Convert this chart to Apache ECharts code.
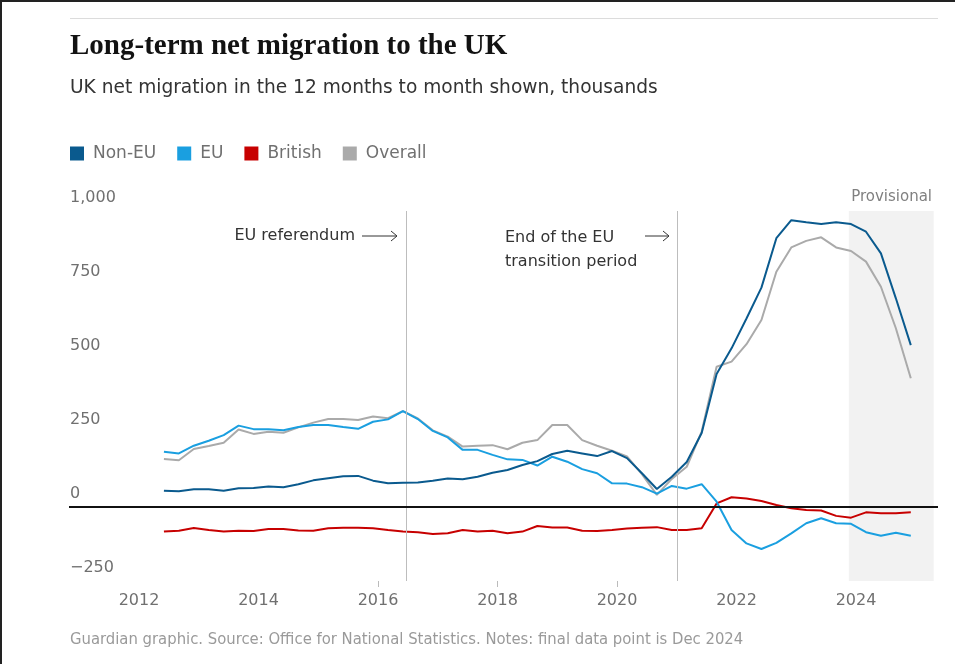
<!DOCTYPE html>
<html>
<head>
<meta charset="utf-8">
<script src="https://cdn.jsdelivr.net/npm/echarts@6/dist/echarts.min.js"></script>
<style>
html,body{margin:0;padding:0;background:#fff;}
#chart{width:955px;height:664px;}
</style>
</head>
<body>
<div id="chart"></div>
<script>
// Period ends (12 months to month shown), quarterly
const periods = [
  '2012-06','2012-09','2012-12',
  '2013-03','2013-06','2013-09','2013-12',
  '2014-03','2014-06','2014-09','2014-12',
  '2015-03','2015-06','2015-09','2015-12',
  '2016-03','2016-06','2016-09','2016-12',
  '2017-03','2017-06','2017-09','2017-12',
  '2018-03','2018-06','2018-09','2018-12',
  '2019-03','2019-06','2019-09','2019-12',
  '2020-03','2020-06','2020-09','2020-12',
  '2021-03','2021-06','2021-09','2021-12',
  '2022-03','2022-06','2022-09','2022-12',
  '2023-03','2023-06','2023-09','2023-12',
  '2024-03','2024-06','2024-09','2024-12'
];
const nonEU = [55,53,60,60,55,63,64,69,67,77,90,97,104,105,89,80,82,83,89,96,94,102,116,125,142,155,179,190,181,172,189,165,114,61,102,152,250,449,536,637,741,908,969,962,956,962,956,930,857,705,547];
const eu = [187,181,207,224,243,275,263,263,259,270,277,277,270,264,288,296,324,297,257,235,193,193,176,161,159,140,170,153,128,114,80,79,67,45,71,62,77,18,-78,-123,-142,-121,-89,-55,-38,-55,-57,-85,-97,-87,-97];
const british = [-83,-80,-71,-78,-83,-80,-81,-74,-74,-79,-80,-72,-70,-70,-72,-78,-83,-85,-91,-89,-78,-83,-80,-89,-83,-64,-69,-69,-80,-81,-78,-73,-70,-68,-78,-78,-72,12,33,29,20,7,-4,-10,-12,-30,-36,-18,-21,-21,-18];
const overall = [162,158,196,206,217,262,247,254,251,269,285,297,297,294,306,300,324,299,259,238,204,207,209,195,217,226,277,277,226,207,190,171,111,41,95,136,255,474,491,550,632,795,877,899,911,877,865,829,744,604,435];

const xLabelYears = [2012,2014,2016,2018,2020,2022,2024];
const xTickYears = [2016,2018,2020];
const yTicks = [-250,0,250,500,750,1000];
const seriesNames = ['Non-EU','EU','British','Overall'];
const colors = {'Non-EU':'#0a5a8e','EU':'#1a9fe0','British':'#c70000','Overall':'#aaaaaa'};

const euReferendum = 2016.47;
const transitionEnd = 2021.0;
const provisionalStart = 2023.88;
const provisionalEnd = 2025.3;

function toYear(p){ const [y,m] = p.split('-').map(Number); return y + (m-1)/12; }
function pairs(vals){ return periods.map((p,i)=>[toYear(p), vals[i]]); }

const chart = echarts.init(document.getElementById('chart'), null, {renderer:'canvas'});
const sans = 'DejaVu Sans';
const lineSeries = (name, vals, z) => ({
  name, type:'line', data: pairs(vals), showSymbol:false, symbol:'none', z,
  color: colors[name], lineStyle:{width:2, color: colors[name]}, silent:true
});

const option = {
  animation:false,
  grid:{left:69, right:17, top:211, bottom:83, containLabel:false},
  xAxis:{
    type:'value', min:2010.828, max:2025.372,
    axisLine:{show:false, onZero:false},
    axisTick:{show:true, customValues:xTickYears, length:6, lineStyle:{color:'#bbbbbb'}},
    axisLabel:{customValues:xLabelYears, color:'#707070', fontSize:16, fontFamily:sans, margin:12, formatter: v=>String(v)},
    splitLine:{show:false}
  },
  yAxis:{
    type:'value', min:yTicks[0], max:yTicks[yTicks.length-1], interval:250,
    axisLine:{show:false}, axisTick:{show:false}, splitLine:{show:false},
    axisLabel:{inside:true, align:'left', verticalAlign:'bottom', margin:1, padding:[0,0,5,0],
      color:'#707070', fontSize:16, fontFamily:sans,
      formatter: v => v<0 ? '\u2212'+Math.abs(v) : v.toLocaleString('en-GB')}
  },
  legend:{
    data:seriesNames, left:70, top:145, padding:0, icon:'rect', itemWidth:14, itemHeight:14, itemGap:21,
    textStyle:{color:'#707070', fontSize:17, fontFamily:sans, padding:[0,0,0,4]},
    selectedMode:false
  },
  series:[
    {name:'bg', type:'line', data:[], z:1, silent:true,
      markArea:{silent:true, itemStyle:{color:'#f2f2f2'}, data:[[{xAxis:provisionalStart},{xAxis:provisionalEnd}]]},
      markLine:{silent:true, symbol:'none', label:{show:false}, lineStyle:{color:'#bdbdbd', width:1, type:'solid'},
        data:[{xAxis:euReferendum},{xAxis:transitionEnd}]}
    },
    lineSeries('Overall', overall, 2),
    lineSeries('British', british, 3),
    lineSeries('EU', eu, 4),
    lineSeries('Non-EU', nonEU, 5),
    {name:'zero', type:'line', data:[], z:10, silent:true,
      markLine:{silent:true, symbol:'none', label:{show:false}, lineStyle:{color:'#111', width:2, type:'solid'},
        data:[{yAxis:0}]}
    }
  ],
  graphic:[
    {type:'line', shape:{x1:0,y1:1,x2:955,y2:1}, style:{stroke:'#222', lineWidth:2}},
    {type:'line', shape:{x1:1,y1:0,x2:1,y2:664}, style:{stroke:'#222', lineWidth:2}},
    {type:'line', shape:{x1:70,y1:18.5,x2:938,y2:18.5}, style:{stroke:'#dcdcdc', lineWidth:1}},
    {type:'text', x:70, y:47, style:{text:'Long-term net migration to the UK', fill:'#121212',
      font:'bold 29px "Liberation Serif"', verticalAlign:'middle'}},
    {type:'text', x:70, y:88, style:{text:'UK net migration in the 12 months to month shown, thousands', fill:'#333',
      font:'18.6px "DejaVu Sans"', verticalAlign:'middle'}},
    {type:'text', x:355, y:236, style:{text:'EU referendum', fill:'#333', font:'16px "DejaVu Sans"', align:'right', verticalAlign:'middle'}},
    {type:'polyline', shape:{points:[[362,236],[397,236]]}, style:{stroke:'#333', lineWidth:1, fill:null}},
    {type:'polyline', shape:{points:[[391,231],[397,236],[391,241]]}, style:{stroke:'#333', lineWidth:1, fill:null}},
    {type:'text', x:505, y:238, style:{text:'End of the EU', fill:'#333', font:'16px "DejaVu Sans"', verticalAlign:'middle'}},
    {type:'text', x:505, y:262, style:{text:'transition period', fill:'#333', font:'16px "DejaVu Sans"', verticalAlign:'middle'}},
    {type:'polyline', shape:{points:[[645,236],[669,236]]}, style:{stroke:'#333', lineWidth:1, fill:null}},
    {type:'polyline', shape:{points:[[663,231],[669,236],[663,241]]}, style:{stroke:'#333', lineWidth:1, fill:null}},
    {type:'text', x:932, y:197, style:{text:'Provisional', fill:'#808080', font:'15px "DejaVu Sans"', align:'right', verticalAlign:'middle'}},
    {type:'text', x:70, y:640, style:{text:'Guardian graphic. Source: Office for National Statistics. Notes: final data point is Dec 2024', fill:'#9a9a9a', font:'16.5px "DejaVu Sans Condensed", "DejaVu Sans"', verticalAlign:'middle'}}
  ]
};
chart.setOption(option);
</script>
</body>
</html>
